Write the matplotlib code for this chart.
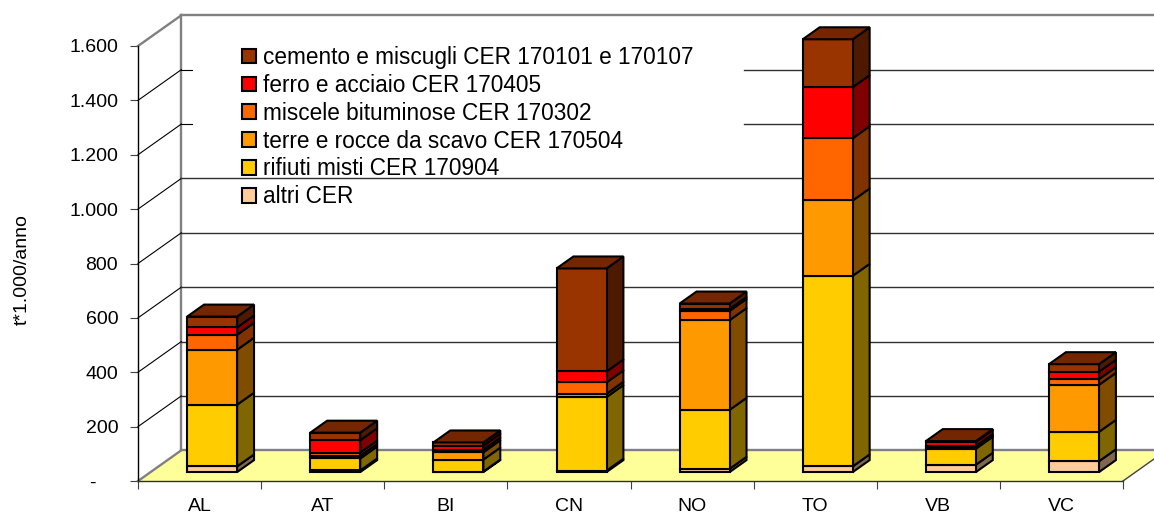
import matplotlib
matplotlib.use("Agg")
import matplotlib.pyplot as plt
from matplotlib.patches import Polygon, Patch

plt.rcParams["font.family"] = ["Liberation Sans", "DejaVu Sans"]

provinces = ["AL", "AT", "BI", "CN", "NO", "TO", "VB", "VC"]

altri = [21, 6, 2, 5, 12, 21, 27, 40]
rifiuti = [227, 44, 44, 271, 217, 701, 59, 108]
terre = [202, 10, 27, 12, 330, 277, 6, 173]
miscele = [55, 12, 10, 42, 34, 229, 4, 21]
ferro = [27, 45, 14, 40, 7, 188, 15, 27]
cemento = [40, 28, 12, 379, 20, 176, 3, 28]

series = [altri, rifiuti, terre, miscele, ferro, cemento]
labels = ["altri CER", "rifiuti misti CER 170904", "terre e rocce da scavo CER 170504",
          "miscele bituminose CER 170302", "ferro e acciaio CER 170405",
          "cemento e miscugli CER 170101 e 170107"]
front_colors = ["#FFCC99", "#FFCC00", "#FF9900", "#FF6600", "#FF0000", "#993300"]
side_colors = ["#80664D", "#806600", "#804D00", "#803300", "#800000", "#4D1A00"]
top_color = "#732600"

y_ticks = [0, 200, 400, 600, 800, 1000, 1200, 1400, 1600]
y_labels = ["-    ", "200", "400", "600", "800", "1.000", "1.200", "1.400", "1.600"]

# shear of the fake 3d depth, in data units
DX = 0.352
DY = 113
BAR_HALF = 0.203
D0, D1 = 0.29, 0.68
GRID_RESUME = 4.92  # gridlines hidden behind the legend up to here
GREY = "#808080"


def shear(x, y, d):
    return (x + DX * d, y + DY * d)


def box(ax, i, y0, y1, front, side, top=None):
    xl, xr = i + 0.5 - BAR_HALF, i + 0.5 + BAR_HALF
    kw = dict(edgecolor="black", linewidth=1.5, joinstyle="miter", clip_on=False, zorder=5)
    face = [shear(xl, y0, D0), shear(xr, y0, D0), shear(xr, y1, D0), shear(xl, y1, D0)]
    right = [shear(xr, y0, D0), shear(xr, y0, D1), shear(xr, y1, D1), shear(xr, y1, D0)]
    ax.add_patch(Polygon(right, closed=True, facecolor=side, **kw))
    ax.add_patch(Polygon(face, closed=True, facecolor=front, **kw))
    if top:
        lid = [shear(xl, y1, D0), shear(xr, y1, D0), shear(xr, y1, D1), shear(xl, y1, D1)]
        ax.add_patch(Polygon(lid, closed=True, facecolor=top, **kw))


fig = plt.figure(figsize=(11.54, 5.14), dpi=100)
ax = fig.add_axes([138 / 1154, 33 / 514, 985 / 1154, 435 / 514])
n = len(provinces)
ax.set_xlim(0, n)
ax.set_ylim(0, 1600)

# floor
floor = [(0, 0), (n, 0), shear(n, 0, 1), shear(0, 0, 1)]
ax.add_patch(Polygon(floor, closed=True, facecolor="#FFFF99", edgecolor="none", clip_on=False, zorder=1))
ax.plot([n, n + DX], [0, DY], color="#404040", lw=1, clip_on=False, zorder=2)

# walls and grid
ax.plot([DX, DX], [DY, 1600 + DY], color=GREY, lw=1.7, clip_on=False, zorder=2)
ax.plot([0, DX], [0, DY], color=GREY, lw=1.7, clip_on=False, zorder=2)
ax.plot([0, DX], [1600, 1600 + DY], color=GREY, lw=1.7, clip_on=False, zorder=2)
ax.plot([DX, n + DX], [DY, DY], color=GREY, lw=1.7, clip_on=False, zorder=2)
ax.plot([DX, n + DX], [1600 + DY, 1600 + DY], color=GREY, lw=1.7, clip_on=False, zorder=2)
for v in y_ticks[1:-1]:
    ax.plot([0, DX], [v, v + DY], color="black", lw=0.8, clip_on=False, zorder=2)
    if v > 1000:
        ax.plot([DX, DX + 0.085], [v + DY, v + DY], color="black", lw=0.8, clip_on=False, zorder=2)
        ax.plot([GRID_RESUME, n + DX], [v + DY, v + DY], color="#303030", lw=1, clip_on=False, zorder=2)
    else:
        ax.plot([DX, n + DX], [v + DY, v + DY], color="#303030", lw=1, clip_on=False, zorder=2)

# stacked bars
for i in range(n):
    base = 0
    for k, values in enumerate(series):
        top = top_color if k == len(series) - 1 else None
        box(ax, i, base, base + values[i], front_colors[k], side_colors[k], top)
        base += values[i]

for s in ["top", "right"]:
    ax.spines[s].set_visible(False)
ax.spines["left"].set_color("black")
ax.spines["bottom"].set_color("#303030")
ax.spines["left"].set_linewidth(1)
ax.spines["bottom"].set_linewidth(1)
ax.patch.set_alpha(0)

ax.set_yticks(y_ticks)
ax.set_yticklabels(y_labels, fontsize=14)
ax.tick_params(axis="y", length=5.8, width=0.8, color="#404040", pad=8.5)
ax.set_xticks(range(n + 1))
ax.set_xticklabels([])
ax.tick_params(axis="x", length=5.8, width=0.8, color="#404040")
ax.set_xticks([i + 0.5 for i in range(n)], labels=provinces, minor=True, fontsize=14)
ax.tick_params(axis="x", which="minor", length=0, pad=12.5)
ax.set_ylabel("t*1.000/anno", fontsize=14)
ax.yaxis.set_label_coords(-0.109, 0.487)

handles = [Patch(facecolor=front_colors[k], edgecolor="black", linewidth=1.5)
           for k in range(len(series) - 1, -1, -1)]
ax.legend(handles, labels[::-1], loc="upper left", bbox_to_anchor=(0.1056, 1.0),
          frameon=False, fontsize=16.3, handlelength=0.62, handleheight=0.62,
          handletextpad=0.3, labelspacing=0.215, borderpad=0, borderaxespad=0)

fig.savefig("out.png", dpi=100)
